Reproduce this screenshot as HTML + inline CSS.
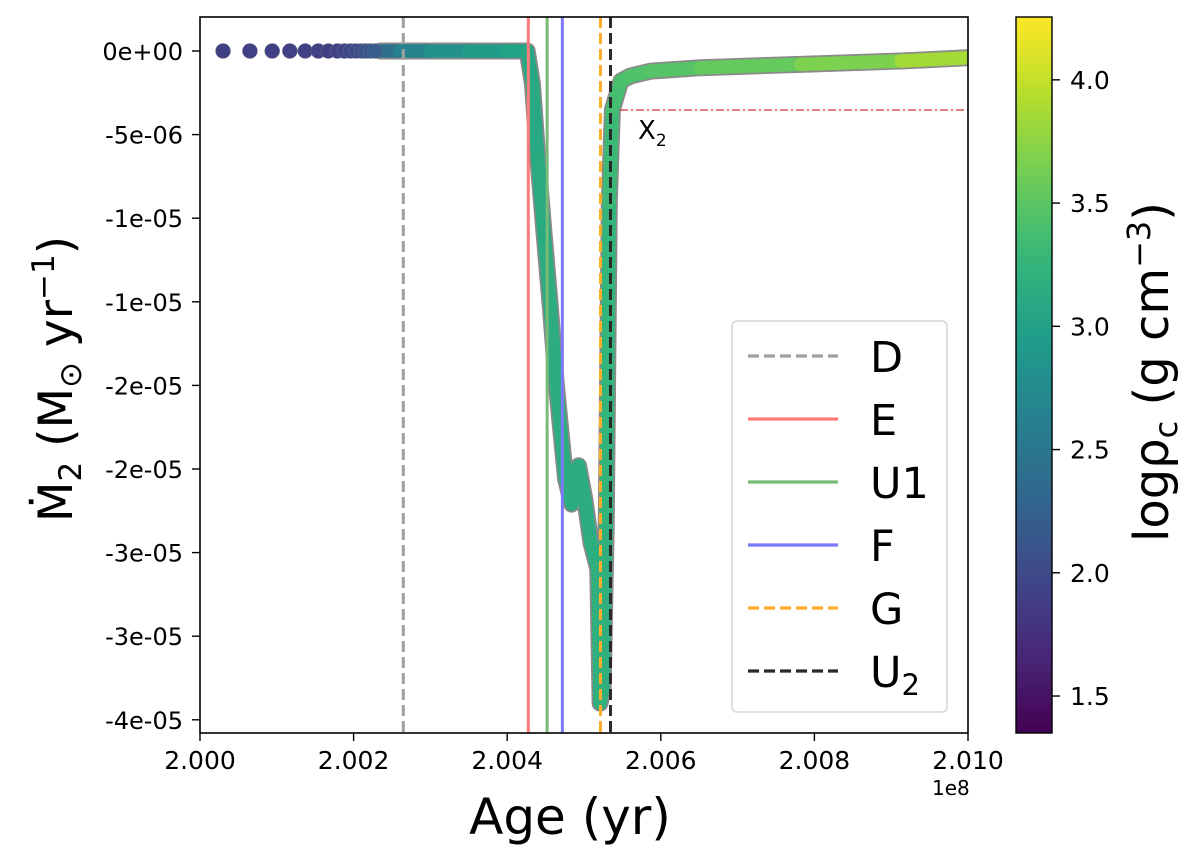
<!DOCTYPE html>
<html><head><meta charset="utf-8"><style>
body{margin:0;background:#fff;}
svg text{font-family:"DejaVu Sans","Liberation Sans",sans-serif;fill:#000;}
</style></head><body>
<svg id="chart" width="1200" height="857" viewBox="0 0 1200 857" xmlns="http://www.w3.org/2000/svg">
<defs>
<linearGradient id="cbgrad" x1="0" y1="1" x2="0" y2="0"></linearGradient>
<clipPath id="plotclip"><rect x="200" y="17" width="768" height="716"/></clipPath>
</defs>
<g id="series" clip-path="url(#plotclip)"></g>
<g id="vlines" clip-path="url(#plotclip)"></g>
<line x1="620" y1="110" x2="968" y2="110" stroke="#c00000" stroke-width="1" stroke-dasharray="8,3,2,3"/>
<text x="638" y="139" font-size="26">X<tspan font-size="17" dy="7">2</tspan></text>
<rect x="200" y="17" width="768" height="716" fill="none" stroke="#000" stroke-width="1.6"/>
<g id="xticks"></g>
<g id="yticks"></g>
<text x="932" y="795" font-size="20">1e8</text>
<text x="570" y="834" font-size="50" text-anchor="middle">Age (yr)</text>
<text transform="translate(72,379) rotate(-90)" font-size="47" text-anchor="middle">Ṁ<tspan font-size="31" dy="9">2</tspan><tspan dy="-9"> (M</tspan><tspan font-size="31" dy="9">⊙</tspan><tspan dy="-9"> yr</tspan><tspan font-size="31" dy="-18">−1</tspan><tspan dy="18">)</tspan></text>
<g id="legend">
<rect x="732" y="321" width="215" height="391" rx="5" fill="#fff" fill-opacity="0.85" stroke="#d5d5d5" stroke-width="1.5"/>
</g>
<rect x="1016" y="17" width="36" height="716" fill="url(#cbgrad)" stroke="#000" stroke-width="1.4"/>
<g id="cbticks"></g>
<text transform="translate(1168,372) rotate(-90)" font-size="48" text-anchor="middle">logρ<tspan font-size="32" dy="9">c</tspan><tspan dy="-9"> (g cm</tspan><tspan font-size="32" dy="-18">−3</tspan><tspan dy="18">)</tspan></text>
</svg>
<script>
// ages in units of 1e8 yr, mass-transfer rate in 1e-6 Msun/yr, log central density
const earlyAge = [2.00030,2.00065,2.00094,2.00117,2.00137,2.00154,2.00167,2.00179,2.00188,2.00196,2.00203,2.00210,2.00216,2.00222,2.00228];
const earlyMdot = [0,0,0,0,0,0,0,0,0,0,0,0,0,0,0];
const earlyRho = [1.9,1.9,1.9,1.9,1.9,1.9,1.9,1.92,1.95,1.98,2.0,2.05,2.1,2.15,2.2];
const trackAge = [2.00235,2.00260,2.00300,2.00350,2.00400,2.00426,2.00433,2.00440,2.00450,2.00456,2.00464,2.00476,2.00484,2.00488,2.00493,2.00501,2.00509,2.00518,2.00521,2.00525,2.00529,2.00533,2.00537,2.00548,2.00560,2.00587,2.00652,2.00782,2.00913,2.01000];
const trackMdot = [0,0,0,0,0,0,-2.0,-6.5,-12.0,-15.2,-20.0,-25.6,-27.1,-25.2,-24.8,-26.8,-29.4,-31.0,-39.0,-38.0,-28.0,-9.0,-3.5,-1.8,-1.5,-1.2,-1.0,-0.8,-0.6,-0.4];
const trackRho = [2.3,2.55,2.75,2.9,3.0,3.05,3.1,3.1,3.15,3.15,3.15,3.15,3.15,3.15,3.15,3.15,3.15,3.2,3.2,3.2,3.2,3.3,3.35,3.4,3.42,3.45,3.5,3.6,3.75,3.95];
const eventNames = ["D","E","U1","F","G","U2"];
const eventAges = [2.002647,2.004275,2.004520,2.004718,2.005215,2.005345];
const xTicks = [2.000,2.002,2.004,2.006,2.008,2.010];
const xTickLabels = ["2.000","2.002","2.004","2.006","2.008","2.010"];
const yTicks = [0,-5,-10,-15,-20,-25,-30,-35,-40];
const yTickLabels = ["0e+00","-5e-06","-1e-05","-1e-05","-2e-05","-2e-05","-3e-05","-3e-05","-4e-05"];
const cbTicks = [1.5,2.0,2.5,3.0,3.5,4.0];
const cbTickLabels = ["1.5","2.0","2.5","3.0","3.5","4.0"];

const X0=200,X1=968,Y0=51,YPER=83.6/5;
function xs(a){return X0+(a-2.0)/0.010*(X1-X0);}
function ys(m){return Y0-m*YPER;}
const CB_MIN=1.35,CB_MAX=4.255,CB_TOP=17,CB_BOT=733;
function cs(v){return CB_BOT-(v-CB_MIN)/(CB_MAX-CB_MIN)*(CB_BOT-CB_TOP);}
const vir=[[68,1,84],[72,40,120],[62,74,137],[49,104,142],[38,130,142],[31,158,137],[53,183,121],[110,206,88],[181,222,43],[253,231,37]];
function viridis(v){let t=Math.max(0,Math.min(1,(v-CB_MIN)/(CB_MAX-CB_MIN)))*(vir.length-1);let i=Math.min(vir.length-2,Math.floor(t)),f=t-i;
const c=vir[i].map((x,k)=>Math.round(x+(vir[i+1][k]-x)*f));return `rgb(${c[0]},${c[1]},${c[2]})`;}
const NS="http://www.w3.org/2000/svg";
function mk(tag,attrs,parent){const e=document.createElementNS(NS,tag);for(const k in attrs)e.setAttribute(k,attrs[k]);parent.appendChild(e);return e;}

const grad=document.getElementById('cbgrad');
for(let i=0;i<=20;i++){const v=CB_MIN+(CB_MAX-CB_MIN)*i/20;mk('stop',{offset:(i/20),'stop-color':viridis(v)},grad);}

const series=document.getElementById('series');
let d='';trackAge.forEach((a,i)=>{d+=(i?'L':'M')+xs(a).toFixed(1)+','+ys(trackMdot[i]).toFixed(1);});
const outline=mk('path',{d:d,fill:'none',stroke:'#8a8a8a','stroke-width':17,'stroke-linejoin':'round','stroke-linecap':'round'},series);


for(let i=0;i<trackAge.length-1;i++){
 const seg=mk('line',{x1:xs(trackAge[i]),y1:ys(trackMdot[i]),x2:xs(trackAge[i+1]),y2:ys(trackMdot[i+1]),stroke:viridis((trackRho[i]+trackRho[i+1])/2),'stroke-width':13.5,'stroke-linecap':'round'},series);
 
 
}
earlyAge.forEach((a,i)=>{
 const c=mk('circle',{cx:xs(a),cy:ys(earlyMdot[i]),r:7.5,fill:viridis(earlyRho[i]),stroke:'#6a6a8a','stroke-width':0.5},series);
 
 
});

const styles={D:{c:'#a0a0a0',dash:'11,5'},E:{c:'#ff7b7b',dash:''},U1:{c:'#77bb77',dash:''},F:{c:'#7b7bff',dash:''},G:{c:'#ffad2a',dash:'11,5'},U2:{c:'#2a2a2a',dash:'11,5'}};
const vl=document.getElementById('vlines');
eventNames.forEach((n,i)=>{const s=styles[n];
 const l=mk('line',{x1:xs(eventAges[i]),x2:xs(eventAges[i]),y1:17,y2:733,stroke:s.c,'stroke-width':3,'stroke-dasharray':s.dash},vl);
 
 
});
const lg=document.getElementById('legend');
eventNames.forEach((n,i)=>{const s=styles[n];const y=356+i*63;
 const l=mk('line',{x1:748,x2:838,y1:y,y2:y,stroke:s.c,'stroke-width':3.2,'stroke-dasharray':s.dash},lg);
 
 
 const t=mk('text',{x:870,y:y+16,'font-size':43},lg);
 
 
 if(n==='U2'){t.textContent='U';const ts=mk('tspan',{'font-size':29,dy:8},t);ts.textContent='2';}else t.textContent=n;
});
const xt=document.getElementById('xticks');
xTicks.forEach((v,i)=>{const x=xs(v);
 const tk=mk('line',{x1:x,x2:x,y1:733,y2:741,stroke:'#000','stroke-width':1.4},xt);
 
 
 const t=mk('text',{x:x,y:769,'font-size':25,'text-anchor':'middle'},xt);t.textContent=xTickLabels[i];
 
 
});
const yt=document.getElementById('yticks');
yTicks.forEach((v,i)=>{const y=ys(v);
 const tk=mk('line',{x1:192,x2:200,y1:y,y2:y,stroke:'#000','stroke-width':1.4},yt);
 
 
 const t=mk('text',{x:183,y:y+9,'font-size':24,'text-anchor':'end'},yt);t.textContent=yTickLabels[i];
 
 
});
const cbt=document.getElementById('cbticks');
cbTicks.forEach((v,i)=>{const y=cs(v);
 const tk=mk('line',{x1:1052,x2:1060,y1:y,y2:y,stroke:'#000','stroke-width':1.4},cbt);
 
 
 const t=mk('text',{x:1070,y:y+9,'font-size':25},cbt);t.textContent=cbTickLabels[i];
 
 
});
</script>
</body></html>
